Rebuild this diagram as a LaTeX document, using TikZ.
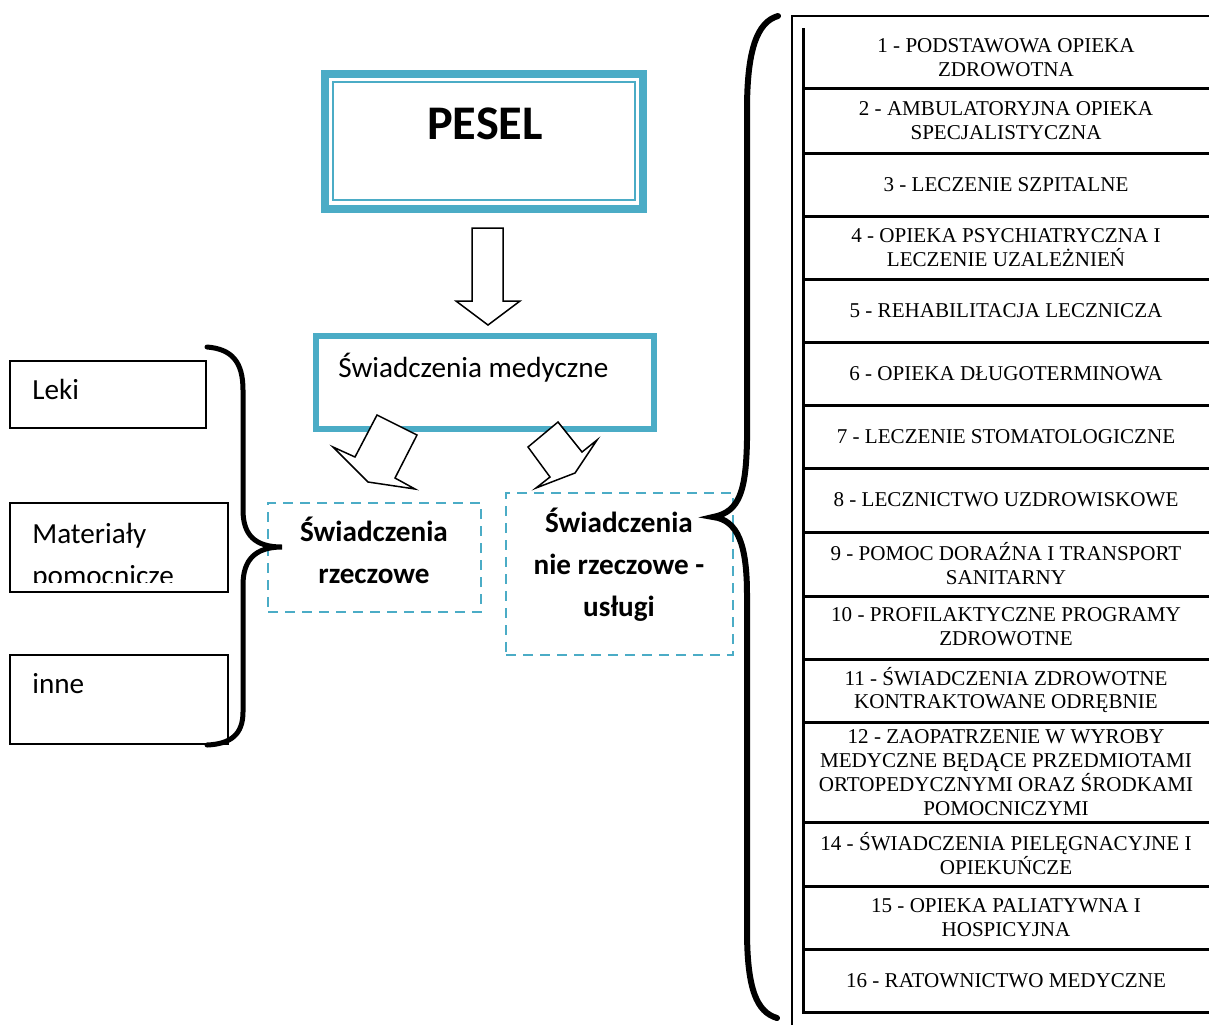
\documentclass[tikz,border=0pt]{standalone}
\usepackage{fontspec}
\setmainfont{Carlito}
\newfontfamily\tnr{Liberation Serif}
\usetikzlibrary{positioning}
\definecolor{akcent}{RGB}{75,172,198}
\tikzset{
	ramka/.style={draw=akcent, line width=1.2mm, inner sep=0pt},
	kreska/.style={draw=akcent, line width=0.4mm, dash pattern=on 2mm off 1.4mm, inner sep=0pt},
	pudlo/.style={draw, line width=0.3mm, inner sep=0pt},
	tekst/.style={font=\fontsize{16.6}{23.8}\selectfont, inner sep=0pt},
	gruby/.style={inner sep=0pt, font=\bfseries\fontsize{16.6}{23.8}\selectfont, align=center},
	wiersz/.style={font=\tnr\fontsize{12}{13.6}\selectfont, align=center, inner sep=0pt},
	klamra/.style={line width=1.2mm, line cap=round},
	strzalka/.style={draw, fill=white, line width=0.3mm, line join=miter},
	linia/.style={line width=0.6mm},
}
\begin{document}
\begin{tikzpicture}[x=0.02cm, y=-0.02cm]
		\useasboundingbox (0,0) rectangle (1209,1025);
		% PESEL
		\node[ramka, line width=1.6mm, minimum width=63.6mm, minimum height=27mm] (pesel) at (484,141.5) {};
		\node[draw=akcent, line width=0.4mm, inner sep=0pt, minimum width=60.4mm, minimum height=23.6mm] (peselin) at (484,141) {};
		\node[anchor=base, inner sep=0pt, font=\bfseries\fontsize{27.5}{32}\selectfont] (peseltxt) at (485,139) {PESEL};
		\draw[strzalka] (472,228) -- (503,228) -- (503,301) -- (520,301) -- (488,325) -- (456,301) -- (472,301) -- cycle;
		% swiadczenia medyczne
		\node[ramka, minimum width=67.6mm, minimum height=18.6mm] (medyczne) at (485,382.5) {};
		\node[tekst, anchor=base west] (medtxt) at (338,377) {Świadczenia medyczne};
		\draw[strzalka] (377,415) -- (417,435) -- (395,478) -- (415,489) -- (368,482) -- (333,447) -- (355,457) -- cycle;
		\draw[strzalka] (558,422) -- (528,447) -- (550,477) -- (536,488) -- (575,473) -- (597,440) -- (582,452) -- cycle;
		% dwa rodzaje
		\node[kreska, minimum width=42.6mm, minimum height=21.8mm] (rzeczowe) at (374.5,557.5) {};
		\node[gruby] (rzeczowetxt) at (374,550) {Świadczenia\\rzeczowe};
		\node[kreska, minimum width=45.4mm, minimum height=32.4mm] (uslugi) at (619.5,574) {};
		\node[gruby] (uslugitxt) at (619,565) {Świadczenia\\nie rzeczowe -\\usługi};
		% lewa strona
		\node[pudlo, minimum width=39.2mm, minimum height=13.4mm] (leki) at (108,394.5) {};
		\node[tekst, anchor=base west] (lekitxt) at (32,399) {Leki};
		\node[pudlo, minimum width=43.6mm, minimum height=17.8mm] (materialy) at (119,547.5) {};
		\begin{scope}
			\clip (10,503) rectangle (228,582);
			\node[tekst, align=left, anchor=base west] (materialytxt) at (32,585) {Materiały\\pomocnicze};
		\end{scope}
		\node[pudlo, minimum width=43.6mm, minimum height=17.8mm] (inne) at (119,699.5) {};
		\node[tekst, anchor=base west] (innetxt) at (32,693) {inne};
		\draw[klamra, line width=1mm] (207,347) .. controls (232,349) and (243,362) .. (243,390) -- (243,510)
			.. controls (243,535) and (255,547) .. (282,547) .. controls (255,547) and (243,560) .. (243,585)
			-- (243,712) .. controls (243,735) and (230,744) .. (207,745);
		% klamra prawa
		\draw[klamra] (778,16) .. controls (757,22) and (747,50) .. (747,110) -- (747,440)
			.. controls (746,490) and (740,512) .. (713,517) .. controls (738,520) and (747,545) .. (747,595)
			-- (747,930) .. controls (747,990) and (757,1012) .. (777,1018);
		% tabela
		\draw[line width=0.3mm] (792,1025) -- (792,16) -- (1209,16);
		\draw[linia] (803,28) -- (803,1013);
		\foreach \y in {88,153,216,279,342,405,468,532,596,659,722,822,886,949,1012}
			\draw[linia] (802,\y) -- (1209,\y);
		\node[wiersz] (r1) at (1006,58) {1 - PODSTAWOWA OPIEKA\\ZDROWOTNA};
		\node[wiersz] (r2) at (1006,120.5) {2 - AMBULATORYJNA OPIEKA\\SPECJALISTYCZNA};
		\node[wiersz] (r3) at (1006,184.5) {3 - LECZENIE SZPITALNE};
		\node[wiersz] (r4) at (1006,247.5) {4 - OPIEKA PSYCHIATRYCZNA I\\LECZENIE UZALEŻNIEŃ};
		\node[wiersz] (r5) at (1006,310.5) {5 - REHABILITACJA LECZNICZA};
		\node[wiersz] (r6) at (1006,373.5) {6 - OPIEKA DŁUGOTERMINOWA};
		\node[wiersz] (r7) at (1006,436.5) {7 - LECZENIE STOMATOLOGICZNE};
		\node[wiersz] (r8) at (1006,500) {8 - LECZNICTWO UZDROWISKOWE};
		\node[wiersz] (r9) at (1006,563.5) {9 - POMOC DORAŹNA I TRANSPORT\\SANITARNY};
		\node[wiersz] (r10) at (1006,627) {10 - PROFILAKTYCZNE PROGRAMY\\ZDROWOTNE};
		\node[wiersz] (r11) at (1006,690) {11 - ŚWIADCZENIA ZDROWOTNE\\KONTRAKTOWANE ODRĘBNIE};
		\node[wiersz] (r12) at (1006,772.5) {12 - ZAOPATRZENIE W WYROBY\\MEDYCZNE BĘDĄCE PRZEDMIOTAMI\\ORTOPEDYCZNYMI ORAZ ŚRODKAMI\\POMOCNICZYMI};
		\node[wiersz] (r14) at (1006,853.5) {14 - ŚWIADCZENIA PIELĘGNACYJNE I\\OPIEKUŃCZE};
		\node[wiersz] (r15) at (1006,918) {15 - OPIEKA PALIATYWNA I\\HOSPICYJNA};
		\node[wiersz] (r16) at (1006,980.5) {16 - RATOWNICTWO MEDYCZNE};
	\end{tikzpicture}
\end{document}
